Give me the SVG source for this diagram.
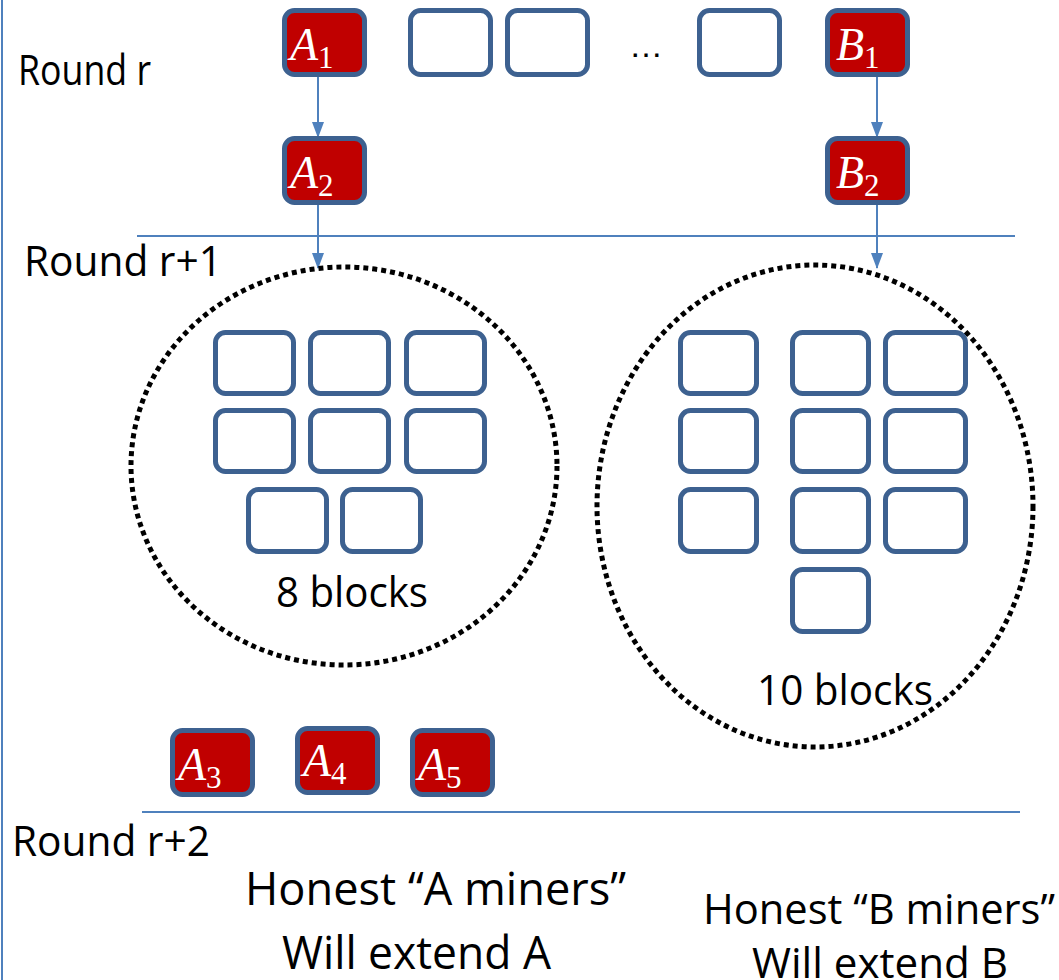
<svg xmlns="http://www.w3.org/2000/svg" width="1059" height="980" viewBox="0 0 1059 980">
<style>
.blk{fill:#fff;stroke:#3D6190;stroke-width:5}
.red{fill:#C00000;stroke:#3D6190;stroke-width:5}
.lbl{font-family:"Liberation Serif",serif;font-style:italic;fill:#fff;font-size:46px}
.sub{font-size:31px;font-style:normal}
.txt{font-family:"Open Sans","Liberation Sans",sans-serif;fill:#000;font-size:42px}
.big{font-size:45px}
.ln{stroke:#4F81BD;stroke-width:2;fill:none}
.dot{fill:none;stroke:#000;stroke-width:5;stroke-dasharray:5 4}
</style>
<defs>
<marker id="ah" markerWidth="16" markerHeight="12" refX="15" refY="6" orient="auto" markerUnits="userSpaceOnUse">
<path d="M0,0 L16,6 L0,12 Z" fill="#4F81BD"/>
</marker>
</defs>
<rect width="1059" height="980" fill="#fff"/>
<line x1="2" y1="0" x2="2" y2="980" class="ln"/>
<line x1="137" y1="236" x2="1015" y2="236" class="ln"/>
<line x1="142" y1="812" x2="1020" y2="812" class="ln"/>
<text class="txt" x="18" y="85" textLength="133" lengthAdjust="spacingAndGlyphs">Round r</text>
<text class="txt" x="24" y="276" textLength="198" lengthAdjust="spacingAndGlyphs">Round r+1</text>
<text class="txt" x="12" y="856" textLength="198" lengthAdjust="spacingAndGlyphs">Round r+2</text>
<g id="connectors">
<line x1="318" y1="77" x2="318" y2="137" class="ln" marker-end="url(#ah)"/>
<line x1="877" y1="77" x2="877" y2="137" class="ln" marker-end="url(#ah)"/>
<line x1="318" y1="205" x2="318" y2="268" class="ln" marker-end="url(#ah)"/>
<line x1="877" y1="205" x2="877" y2="268" class="ln" marker-end="url(#ah)"/>
</g>
<g id="A1"><rect class="red" x="284.5" y="10.5" width="80" height="64" rx="10"/><text class="lbl" x="290" y="60">A<tspan class="sub" dy="8">1</tspan></text></g>
<g id="top2"><rect class="blk" x="410.5" y="10.5" width="80" height="64" rx="10"/></g>
<g id="top3"><rect class="blk" x="507.5" y="10.5" width="80" height="64" rx="10"/></g>
<text id="ellipsis" x="629" y="57" font-family="Liberation Sans,sans-serif" font-size="34" fill="#000">…</text>
<g id="top4"><rect class="blk" x="699.5" y="10.5" width="80" height="64" rx="10"/></g>
<g id="B1"><rect class="red" x="827.5" y="10.5" width="80" height="64" rx="10"/><text class="lbl" x="836" y="60">B<tspan class="sub" dy="8">1</tspan></text></g>
<g id="A2"><rect class="red" x="284.5" y="138.5" width="80" height="64" rx="10"/><text class="lbl" x="290" y="188">A<tspan class="sub" dy="8">2</tspan></text></g>
<g id="B2"><rect class="red" x="827.5" y="138.5" width="80" height="64" rx="10"/><text class="lbl" x="836" y="188">B<tspan class="sub" dy="8">2</tspan></text></g>
<g id="groupA">
<ellipse class="dot" cx="344" cy="466" rx="213" ry="199"/>
<rect class="blk" x="215.5" y="332.5" width="78" height="61" rx="10"/>
<rect class="blk" x="310.5" y="332.5" width="78" height="61" rx="10"/>
<rect class="blk" x="406.5" y="332.5" width="78" height="61" rx="10"/>
<rect class="blk" x="215.5" y="410.5" width="78" height="61" rx="10"/>
<rect class="blk" x="310.5" y="410.5" width="78" height="61" rx="10"/>
<rect class="blk" x="406.5" y="410.5" width="78" height="61" rx="10"/>
<rect class="blk" x="248.5" y="489.5" width="78" height="62" rx="10"/>
<rect class="blk" x="342.5" y="489.5" width="78" height="62" rx="10"/>
<text class="txt" x="276" y="607" textLength="152" lengthAdjust="spacingAndGlyphs">8 blocks</text>
</g>
<g id="groupB">
<ellipse class="dot" cx="815" cy="506" rx="218" ry="241"/>
<rect class="blk" x="680.5" y="332.5" width="76" height="61" rx="10"/>
<rect class="blk" x="792.5" y="332.5" width="76" height="61" rx="10"/>
<rect class="blk" x="885.5" y="332.5" width="80" height="61" rx="10"/>
<rect class="blk" x="680.5" y="410.5" width="76" height="61" rx="10"/>
<rect class="blk" x="792.5" y="410.5" width="76" height="61" rx="10"/>
<rect class="blk" x="885.5" y="410.5" width="80" height="61" rx="10"/>
<rect class="blk" x="680.5" y="489.5" width="76" height="62" rx="10"/>
<rect class="blk" x="792.5" y="489.5" width="76" height="62" rx="10"/>
<rect class="blk" x="885.5" y="489.5" width="80" height="62" rx="10"/>
<rect class="blk" x="792.5" y="569.5" width="76" height="62" rx="10"/>
<text class="txt" x="757" y="705" textLength="176" lengthAdjust="spacingAndGlyphs">10 blocks</text>
</g>
<g id="A3"><rect class="red" x="172.5" y="730.5" width="80" height="64" rx="10"/><text class="lbl" x="178" y="780">A<tspan class="sub" dy="8">3</tspan></text></g>
<g id="A4"><rect class="red" x="297.5" y="728.5" width="80" height="64" rx="10"/><text class="lbl" x="303" y="776">A<tspan class="sub" dy="8">4</tspan></text></g>
<g id="A5"><rect class="red" x="412.5" y="730.5" width="80" height="64" rx="10"/><text class="lbl" x="418" y="780">A<tspan class="sub" dy="8">5</tspan></text></g>
<g id="notes">
<text class="txt big" x="245" y="905" textLength="381" lengthAdjust="spacingAndGlyphs">Honest “A miners”</text>
<text class="txt big" x="282" y="969" textLength="269" lengthAdjust="spacingAndGlyphs">Will extend A</text>
<text class="txt" x="703" y="924" textLength="352" lengthAdjust="spacingAndGlyphs">Honest “B miners”</text>
<text class="txt" x="752" y="978" textLength="256" lengthAdjust="spacingAndGlyphs">Will extend B</text>
</g>
</svg>
